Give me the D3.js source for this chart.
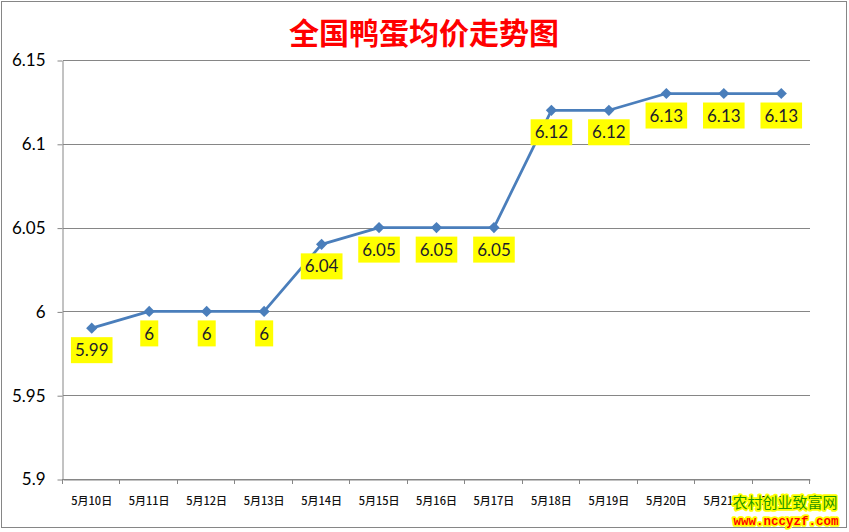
<!DOCTYPE html>
<html><head><meta charset="utf-8">
<script src="https://cdn.jsdelivr.net/npm/d3@7"></script>
<style>
html,body{margin:0;padding:0;background:#fff;}
svg{display:block;}
</style></head>
<body>
<script>
const title = "全国鸭蛋均价走势图";
const categories = ["5月10日","5月11日","5月12日","5月13日","5月14日","5月15日","5月16日","5月17日","5月18日","5月19日","5月20日","5月21日","5月22日"];
const prices = [5.99, 6, 6, 6, 6.04, 6.05, 6.05, 6.05, 6.12, 6.12, 6.13, 6.13, 6.13];
const yTicks = [5.9, 5.95, 6, 6.05, 6.1, 6.15];
const watermarkName = "农村创业致富网";
const watermarkUrl = "www.nccyzf.com";

const W = 849, H = 532;
const plot = {left: 63, right: 810, top: 60, bottom: 479};

const svg = d3.select("body").append("svg").attr("width", W).attr("height", H);
svg.append("rect").attr("width", W).attr("height", H).attr("fill", "#fff");
svg.append("rect").attr("x", 1.5).attr("y", 1.5).attr("width", 845).attr("height", 526)
  .attr("fill", "none").attr("stroke", "#868686").attr("stroke-width", 1);

const x = d3.scaleBand().domain(categories).range([plot.left, plot.right]).padding(0);
const y = d3.scaleLinear().domain([5.9, 6.15]).range([plot.bottom, plot.top]);

// gridlines
svg.append("g").selectAll("line").data(yTicks).join("line")
  .attr("x1", plot.left).attr("x2", plot.right)
  .attr("y1", d => Math.round(y(d)) + 0.5).attr("y2", d => Math.round(y(d)) + 0.5)
  .attr("stroke", "#868686").attr("stroke-width", 1);

// y axis
const yAxis = d3.axisLeft(y).tickValues(yTicks).tickFormat(d => String(d))
  .tickSizeInner(5).tickSizeOuter(0).tickPadding(12);
const gy = svg.append("g").attr("transform", `translate(${plot.left - 0.5},0.5)`).call(yAxis);
gy.select(".domain").attr("stroke", "#868686");
gy.selectAll(".tick line").attr("stroke", "#868686");
gy.selectAll(".tick text").attr("font-family", "Lato, 'Open Sans', sans-serif")
  .attr("font-size", 17).attr("fill", "#000");

// x axis (labels)
const xAxis = d3.axisBottom(x).tickSize(0).tickPadding(18);
const gx = svg.append("g").attr("transform", `translate(0,${plot.bottom + 0.5})`).call(xAxis);
gx.select(".domain").attr("stroke", "#868686");
gx.selectAll(".tick text").attr("font-family", "'Noto Sans CJK SC', sans-serif")
  .attr("font-size", 11).attr("font-weight", 500).attr("fill", "#111");
// x tick marks at category boundaries
const bounds = categories.map(c => x(c)).concat([x.range()[1]]);
svg.append("g").selectAll("line").data(bounds).join("line")
  .attr("x1", d => Math.round(d) - 0.5).attr("x2", d => Math.round(d) - 0.5)
  .attr("y1", plot.bottom).attr("y2", plot.bottom + 5)
  .attr("stroke", "#868686");

// line
const cx = (d, i) => x(categories[i]) + x.bandwidth() / 2;
const line = d3.line().x((d, i) => cx(d, i)).y(d => y(d));
svg.append("path").datum(prices).attr("d", line)
  .attr("fill", "none").attr("stroke", "#4a7ebb").attr("stroke-width", 2.75)
  .attr("stroke-linejoin", "round");

// markers
svg.append("g").selectAll("path").data(prices).join("path")
  .attr("d", d3.symbol().type(d3.symbolDiamond2).size(80))
  .attr("transform", (d, i) => `translate(${cx(d, i)},${y(d)})`)
  .attr("fill", "#4a7ebb");

// data labels
const lg = svg.append("g").selectAll("g").data(prices).join("g")
  .attr("transform", (d, i) => `translate(${cx(d, i)},${y(d) + 22})`);
lg.append("text").text(d => String(d))
  .attr("text-anchor", "middle").attr("dy", "0.36em")
  .attr("font-family", "Lato, 'Open Sans', sans-serif").attr("font-size", 17)
  .attr("fill", "#1c1c2c");
lg.each(function() {
  const g = d3.select(this);
  const bb = g.select("text").node().getBBox();
  g.insert("rect", "text").attr("x", bb.x - 4).attr("y", -13)
    .attr("width", bb.width + 8).attr("height", 26).attr("fill", "#ffff00");
});

// title
svg.append("text").attr("x", 424).attr("y", 33).attr("text-anchor", "middle")
  .attr("dy", "0.35em")
  .attr("font-family", "'Noto Sans CJK SC', sans-serif").attr("font-weight", 700)
  .attr("font-size", 30).attr("fill", "#ff0000").text(title);

// watermark
svg.append("text").attr("x", 785).attr("y", 503).attr("dy", "0.36em")
  .attr("text-anchor", "middle")
  .attr("font-family", "'Noto Sans CJK SC', sans-serif").attr("font-size", 15)
  .attr("fill", "#1e9600").attr("stroke", "#ffff00").attr("stroke-width", 3.5)
  .attr("paint-order", "stroke").attr("stroke-linejoin", "round").text(watermarkName);
svg.append("text").attr("x", 786).attr("y", 520).attr("dy", "0.36em")
  .attr("text-anchor", "middle")
  .attr("font-family", "'Liberation Mono', 'DejaVu Sans Mono', monospace").attr("font-weight", 700)
  .attr("font-size", 12.5)
  .attr("fill", "#ff0000").attr("stroke", "#ffff00").attr("stroke-width", 3.5)
  .attr("paint-order", "stroke").attr("stroke-linejoin", "round").text(watermarkUrl);
</script>
</body></html>
